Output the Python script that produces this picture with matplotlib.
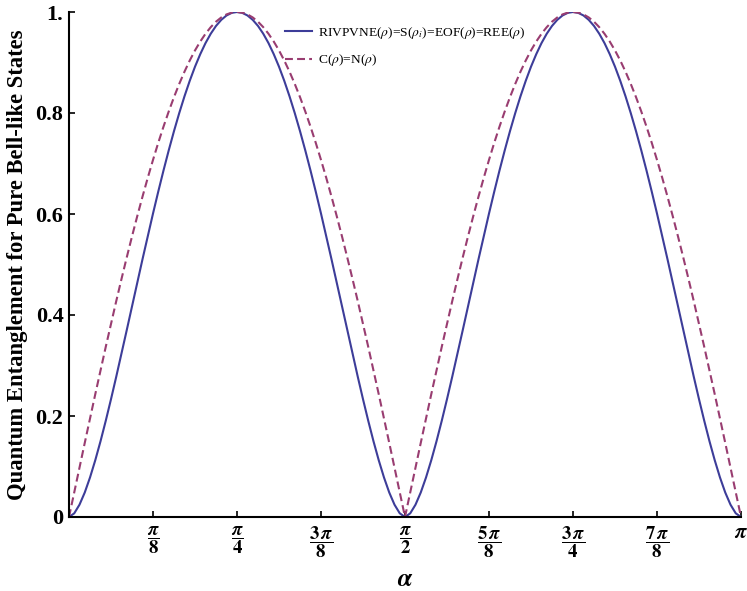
import numpy as np
import matplotlib
matplotlib.use("Agg")
import matplotlib.pyplot as plt

plt.rcParams['mathtext.fontset'] = 'stix'
plt.rcParams['font.family'] = ['Liberation Serif', 'DejaVu Serif']

# alpha sample points in units of pi/128, k = 0..128
alpha_steps = list(range(0, 129))

# concurrence C = N (one quarter-wave, alpha = 0..pi/4 in steps of pi/128)
conc_quarter = [0.0, 0.0491, 0.0980, 0.1467, 0.1951, 0.2430, 0.2903, 0.3369,
                0.3827, 0.4276, 0.4714, 0.5141, 0.5556, 0.5957, 0.6344, 0.6716,
                0.7071, 0.7410, 0.7730, 0.8032, 0.8315, 0.8577, 0.8819, 0.9040,
                0.9239, 0.9415, 0.9569, 0.9700, 0.9808, 0.9892, 0.9952, 0.9988, 1.0]
# entropy-based measures (alpha = 0..pi/4 in steps of pi/128)
entropy_quarter = [0.0, 0.0073, 0.0244, 0.0485, 0.0782, 0.1123, 0.1499, 0.1905,
                   0.2333, 0.2779, 0.3236, 0.3701, 0.4170, 0.4639, 0.5104, 0.5561,
                   0.6009, 0.6443, 0.6862, 0.7262, 0.7642, 0.7999, 0.8332, 0.8638,
                   0.8917, 0.9165, 0.9384, 0.9570, 0.9724, 0.9844, 0.9931, 0.9983, 1.0]

# the curves are symmetric: rise, fall, rise, fall over 0..pi
conc = conc_quarter + conc_quarter[-2::-1] + conc_quarter[1:] + conc_quarter[-2::-1]
entr = entropy_quarter + entropy_quarter[-2::-1] + entropy_quarter[1:] + entropy_quarter[-2::-1]

xtick_vals = [1, 2, 3, 4, 5, 6, 7, 8]  # multiples of pi/8
xtick_labels = [r'$\dfrac{\boldsymbol{\pi}}{\mathbf{8}}$',
                r'$\dfrac{\boldsymbol{\pi}}{\mathbf{4}}$',
                r'$\dfrac{\mathbf{3}\,\boldsymbol{\pi}}{\mathbf{8}}$',
                r'$\dfrac{\boldsymbol{\pi}}{\mathbf{2}}$',
                r'$\dfrac{\mathbf{5}\,\boldsymbol{\pi}}{\mathbf{8}}$',
                r'$\dfrac{\mathbf{3}\,\boldsymbol{\pi}}{\mathbf{4}}$',
                r'$\dfrac{\mathbf{7}\,\boldsymbol{\pi}}{\mathbf{8}}$',
                r'$\boldsymbol{\pi}$']
ytick_vals = [0, 0.2, 0.4, 0.6, 0.8, 1.0]
ytick_labels = ['0', '0.2', '0.4', '0.6', '0.8', '1.']

alpha = np.array(alpha_steps) * np.pi / 128

fig = plt.figure(figsize=(7.47, 5.91), dpi=100)
ax = fig.add_axes([69/747, 1 - 517/591, 672/747, 505/591])

ax.plot(alpha, entr, color='#3D3D99', lw=1.5,
        label=r'RIVPVNE($\rho$)=S($\rho_i$)=EOF($\rho$)=REE($\rho$)')
ax.plot(alpha, conc, color='#993D71', lw=1.5, ls=(0, (3.8, 2)),
        label=r'C($\rho$)=N($\rho$)')

ax.set_xlim(0, np.pi)
ax.set_ylim(0, 1)
ax.spines['top'].set_visible(False)
ax.spines['right'].set_visible(False)
for s in ['left', 'bottom']:
    ax.spines[s].set_linewidth(1.5)

ax.set_xticks([v * np.pi / 8 for v in xtick_vals])
ax.set_xticklabels(xtick_labels, fontsize=13.5)
ax.get_xticklabels()[-1].set_fontsize(15)
ax.set_yticks(ytick_vals)
ax.set_yticklabels(ytick_labels, fontsize=16, fontweight='bold')
ax.tick_params(direction='in', length=4, width=1.2)
ax.tick_params(axis='y', pad=4)
ax.tick_params(axis='x', pad=5)

ax.set_xlabel(r'$\boldsymbol{\alpha}$', fontsize=18)
ax.xaxis.set_label_coords(0.5, -0.102)
ax.set_ylabel('Quantum Entanglement for Pure Bell-like States', fontsize=16.3,
              fontweight='bold')
ax.yaxis.set_label_coords(-0.061, 0.5)

leg = ax.legend(loc='upper left', bbox_to_anchor=((285 - 69) / 672, (517 - 25) / 505),
                frameon=False, fontsize=9.7, handlelength=2.0, handletextpad=0.45,
                labelspacing=0.85, borderpad=0, borderaxespad=0)

fig.savefig('out.png', dpi=100)
